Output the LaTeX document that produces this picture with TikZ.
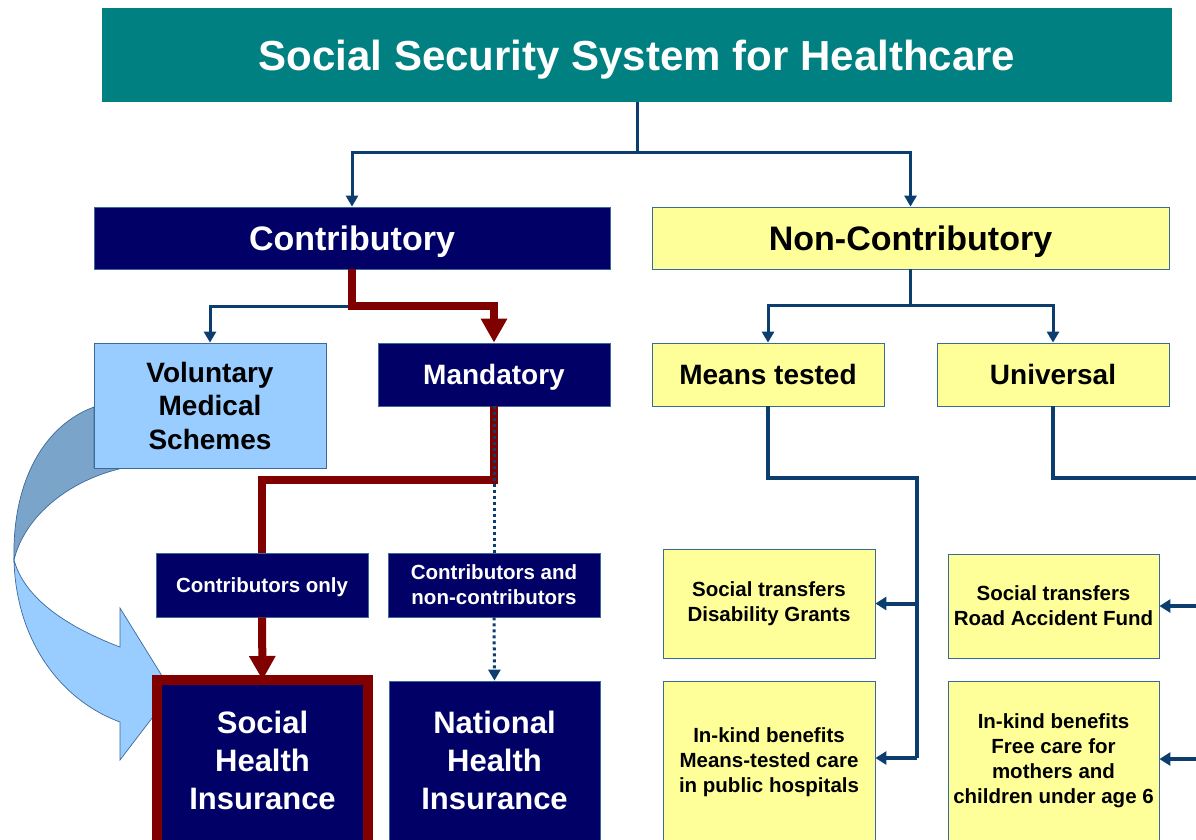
\documentclass[tikz,border=0pt]{standalone}
\usepackage{fontspec}
\setmainfont{Liberation Sans}
\usetikzlibrary{arrows.meta}
\definecolor{teal1}{HTML}{008080}
\definecolor{navy1}{HTML}{000066}
\definecolor{yel}{HTML}{FFFF99}
\definecolor{lblue}{HTML}{99CCFF}
\definecolor{dblue}{HTML}{7BA4CA}
\definecolor{dred}{HTML}{800000}
\definecolor{cblue}{HTML}{0B3D6E}
\definecolor{edge}{HTML}{3B6A9A}
\tikzset{
  box/.style={rectangle, inner sep=0pt, align=center, font=\bfseries, draw=edge, line width=0.8pt},
  navybox/.style={box, fill=navy1, text=white},
  yelbox/.style={box, fill=yel, text=black},
  conn/.style={draw=cblue, line width=3pt},
  connb/.style={draw=cblue, line width=4pt},
  tipb/.style={-{Triangle[width=12pt,length=11pt]}},
  tipbb/.style={-{Triangle[width=13pt,length=11pt]}},
  redc/.style={draw=dred, line width=8pt},
  tipr/.style={-{Triangle[width=25pt,length=24pt]}},
  dotc/.style={draw=cblue, line width=3pt, dash pattern=on 3pt off 3pt},
  fbig/.style={font=\bfseries\fontsize{34}{40}\selectfont},
  fmid/.style={font=\bfseries\fontsize{28}{33.5}\selectfont},
  fsm/.style={font=\bfseries\fontsize{20.5}{25}\selectfont},
  fins/.style={font=\bfseries\fontsize{31}{38}\selectfont},
}
\begin{document}
\begin{tikzpicture}[x=1pt,y=-1pt]
\useasboundingbox (0,0) rectangle (1196,839);
\clip (0,0) rectangle (1196,839);

% title
\node[box, fill=teal1, text=white, draw=none, minimum width=1070pt, minimum height=94pt, text depth=0pt,
      font=\bfseries\fontsize{42}{50}\selectfont] (title) at (637,55) {Social Security System for Healthcare};

% level 1
\node[navybox, fbig, text depth=0pt, minimum width=516pt, minimum height=62pt] (contrib) at (352,238) {Contributory};
\node[yelbox, fbig, text depth=0pt, minimum width=517pt, minimum height=62pt] (noncontrib) at (910.5,238) {Non-Contributory};

% curved block arrow (behind voluntary box)
\filldraw[fill=dblue, draw=edge, line width=0.7pt]
  (94,407) .. controls (45,425) and (12,480) .. (14,560)
  .. controls (25,515) and (70,480) .. (123,468) -- (94,468) -- cycle;
\filldraw[fill=lblue, draw=edge, line width=0.7pt]
  (14,560) .. controls (16,640) and (60,700) .. (120,722) -- (120,760) -- (172,692)
  -- (120,608) -- (120,647) .. controls (70,628) and (25,600) .. (14,560) -- cycle;

% level 2
\node[box, fill=lblue, text=black, fmid, minimum width=232pt, minimum height=125pt] (vol) at (210,405.5) {Voluntary\\Medical\\Schemes};
\node[navybox, fmid, text depth=0pt, minimum width=232pt, minimum height=63pt] (mand) at (494,374.5) {Mandatory};
\node[yelbox, fmid, minimum width=232pt, minimum height=63pt] (means) at (768,374.5) {Means tested};
\node[yelbox, fmid, minimum width=232pt, minimum height=63pt] (univ) at (1053,374.5) {Universal};

% level 3
\node[navybox, fsm, text depth=0pt, minimum width=212pt, minimum height=64pt] (conly) at (262,585) {Contributors only};
\node[navybox, fsm, minimum width=212pt, minimum height=64pt] (cand) at (494,585) {Contributors and\\non-contributors};
\node[yelbox, fsm, minimum width=212pt, minimum height=109pt] (dis) at (769,603.5) {Social transfers\\Disability Grants};
\node[yelbox, fsm, minimum width=211pt, minimum height=104pt] (raf) at (1053.5,606) {Social transfers\\Road Accident Fund};

% bottom boxes
\node[navybox, draw=dred, line width=10pt, minimum width=211pt, minimum height=170pt] (shi) at (262.5,765) {};
\node[fins, text=white, align=center, inner sep=0pt] (shiT) at (262.5,760) {Social\\Health\\Insurance};
\node[navybox, minimum width=211pt, minimum height=170pt] (nhi) at (494.5,766) {};
\node[fins, text=white, align=center, inner sep=0pt] (nhiT) at (494.5,760) {National\\Health\\Insurance};
\node[yelbox, minimum width=212pt, minimum height=170pt] (ink1) at (769,766) {};
\node[fsm, align=center, inner sep=0pt] (ink1T) at (769,762.5) {In-kind benefits\\Means-tested care\\in public hospitals};
\node[yelbox, minimum width=211pt, minimum height=170pt] (ink2) at (1053.5,766) {};
\node[fsm, align=center, inner sep=0pt] (ink2T) at (1053.5,761) {In-kind benefits\\Free care for\\mothers and\\children under age 6};

% connectors: title
\coordinate (j1) at (637,152);
\draw[conn] (title.south) -- (j1);
\draw[conn, tipb] (j1) -| (contrib.north);
\draw[conn, tipb] (j1) -| (noncontrib.north);

% contributory
\coordinate (j2) at (352,306);
\draw[conn, tipb] (j2) -| (vol.north);
\draw[redc, tipr] (contrib.south) -- (j2) -| (mand.north);

% non-contributory
\coordinate (j3) at (910.5,305);
\draw[conn] (noncontrib.south) -- (j3);
\draw[conn, tipb] (j3) -| (means.north);
\draw[conn, tipb] (j3) -| (univ.north);

% mandatory
\coordinate (j4) at (494,480);
\draw[redc] (mand.south) -- (j4) -| (conly.north);
\draw[dotc] (mand.south) -- (cand.north);
\draw[dotc, tipb] (cand.south) -- (nhi.north);
\draw[redc, tipr] (conly.south) -- ([yshift=-5pt]shi.north);

% means tested
\coordinate (j5) at (917,478);
\coordinate (a2) at (917,758);
\draw[connb] (means.south) |- (j5) -- (a2);
\draw[connb, tipbb] (a2) -- (a2 -| ink1.east);
\draw[connb, tipbb] (dis.east -| j5) -- (dis.east);

% universal
\coordinate (j6) at (1053,478);
\coordinate (r0) at (1200,478);
\coordinate (r1) at (1200,606);
\coordinate (r2) at (1200,759);
\draw[connb] (univ.south) |- (r0);
\draw[connb, tipbb] (r1) -- (raf.east);
\draw[connb, tipbb] (r2) -- (r2 -| ink2.east);
\end{tikzpicture}
\end{document}
